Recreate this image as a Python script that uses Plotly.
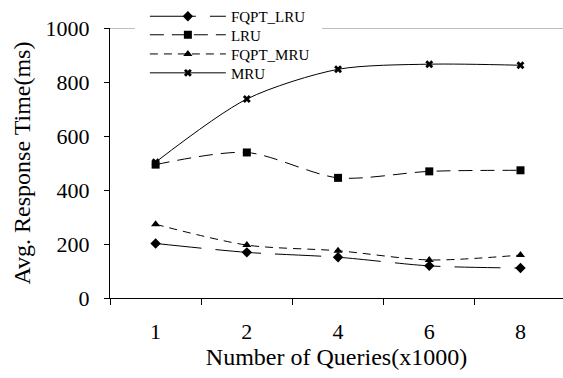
import plotly.graph_objects as go

# Query counts (thousands) and average response times (ms)
queries = ["1", "2", "4", "6", "8"]
fqpt_lru = [202, 169, 151, 119, 111]
lru = [494, 539, 445, 469, 473]
fqpt_mru = [273, 196, 175, 141, 159]
mru = [503, 737, 847, 866, 862]

series = [
    ("FQPT_LRU", fqpt_lru, "46px,14px", "diamond", 8),
    ("LRU", lru, "14px,8px", "square", 8),
    ("FQPT_MRU", fqpt_mru, "8px,6px", "triangle-up", 8),
    ("MRU", mru, "solid", "x", 7),
]

serif = "Liberation Serif"

fig = go.Figure()
legend_ids = ["legend", "legend2", "legend3", "legend4"]
for (name, vals, dash, sym, size), lg in zip(series, legend_ids):
    fig.add_trace(go.Scatter(
        x=queries, y=vals, name=name, mode="lines+markers", legend=lg,
        line=dict(color="black", width=1, dash=dash, shape="spline", smoothing=0.8),
        marker=dict(symbol=sym, size=size, color="black"),
    ))

# light rule along the top of the plotting area, broken where the legend sits
for x0, x1 in [(0, 0.055), (0.468, 1)]:
    fig.add_shape(type="line", xref="paper", yref="y", x0=x0, x1=x1, y0=1000, y1=1000,
                  line=dict(color="#bdbdbd", width=2), layer="below")

# one legend per series, stacked in a tight column at the top left
legend_rows = [1.044, 0.974, 0.903, 0.833]
legend_style = dict(x=0.077, xanchor="left", yanchor="middle", bgcolor="rgba(0,0,0,0)",
                    font=dict(size=15, family=serif, color="black"), itemwidth=76,
                    borderwidth=0)
legends = {lg: dict(y=row, **legend_style) for lg, row in zip(legend_ids, legend_rows)}

fig.update_layout(
    width=563, height=378,
    margin=dict(l=110, r=0, t=26, b=80),
    paper_bgcolor="white", plot_bgcolor="white",
    font=dict(family=serif, color="black"),
    showlegend=True,
    **legends,
    xaxis=dict(
        type="category", range=[-0.5, 4.466],
        showline=True, linecolor="black", linewidth=1,
        ticks="outside", ticklen=6, tickcolor="black", tickson="boundaries",
        showgrid=False, zeroline=False,
        tickfont=dict(size=22, family=serif),
        ticklabelstandoff=14,
        title=dict(text="Number of Queries(x1000)", font=dict(size=24, family=serif), standoff=2),
    ),
    yaxis=dict(
        range=[0, 1000], tickvals=[0, 200, 400, 600, 800, 1000],
        showline=True, linecolor="black", linewidth=1,
        ticks="outside", ticklen=5, tickcolor="black",
        showgrid=False, zeroline=False,
        tickfont=dict(size=22, family=serif),
        ticklabelstandoff=10,
        title=dict(text="Avg. Response Time(ms)", font=dict(size=24, family=serif), standoff=8),
    ),
)

fig.write_html("out.html")
